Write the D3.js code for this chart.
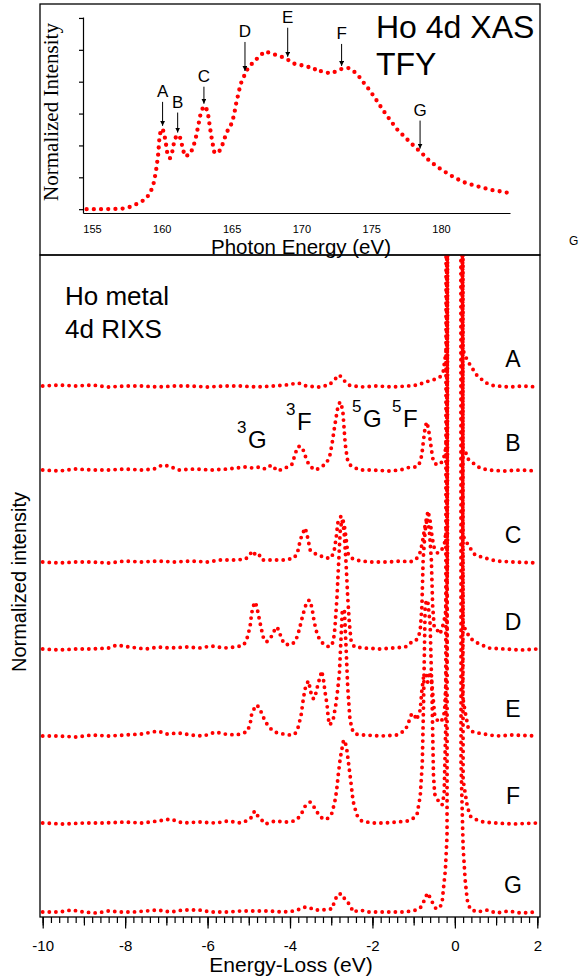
<!DOCTYPE html>
<html>
<head>
<meta charset="utf-8">
<title>Ho 4d XAS and RIXS</title>
<script src="https://cdn.jsdelivr.net/npm/d3@7"></script>
<style>
body { margin: 0; background: #fff; }
text { font-family: "Liberation Sans", Arial, sans-serif; fill: #000; }
.dots { fill: none; stroke: #ff0000; stroke-linecap: round; }
.frame { fill: none; stroke: #000; stroke-width: 1.3; }
.axis line, .axis path { stroke: #000; stroke-width: 1.2; }
</style>
</head>
<body>
<script>
// ---- Ho 4d XAS, total fluorescence yield ----
var xasEnergy = [154.62,155.33,156.05,156.77,157.24,157.72,158.20,158.80,159.15,159.39,159.51,159.63,
  159.75,159.82,159.92,160.06,160.18,160.30,160.42,160.59,160.78,160.90,161.07,161.26,161.38,161.50,
  161.66,162.02,162.26,162.45,162.62,162.78,162.98,163.17,163.33,163.45,163.60,163.76,164.05,164.29,
  164.53,164.77,165.00,165.17,165.32,165.48,165.65,165.84,166.03,166.32,166.68,167.03,167.39,167.75,
  168.23,168.71,169.06,169.42,169.90,170.38,170.90,171.09,171.33,171.69,172.17,172.53,172.88,173.36,
  173.72,174.08,174.44,174.91,175.39,175.87,176.35,176.82,177.30,177.78,178.26,178.62,179.09,179.69,
  180.29,180.88,181.60,182.32,183.03,183.75,184.23,184.82];
var xasIntensity = [0.00,0.00,0.00,0.01,0.02,0.07,0.16,0.30,0.49,0.75,1.01,1.32,
  1.74,2.16,2.47,2.52,2.36,2.05,1.69,1.60,1.84,2.16,2.31,2.31,2.16,1.90,
  1.66,1.72,1.95,2.26,2.63,2.99,3.22,3.20,2.94,2.57,2.16,1.79,1.76,1.95,
  2.26,2.52,2.68,2.94,3.30,3.61,3.93,4.11,4.32,4.50,4.66,4.81,4.95,4.90,
  4.83,4.76,4.68,4.57,4.53,4.47,4.43,4.32,4.34,4.29,4.26,4.34,4.40,4.43,
  4.34,4.19,3.98,3.72,3.41,3.09,2.80,2.52,2.31,2.10,1.90,1.76,1.55,1.34,
  1.17,1.01,0.85,0.75,0.67,0.59,0.56,0.51];
var xasTicks = [155, 160, 165, 170, 175, 180];
var xasYTicks = [0, 1, 2, 3, 4, 5, 6];
var xasPeaks = ["A", "B", "C", "D", "E", "F", "G"];
var xasPeakEnergy = [160.06, 161.14, 163.02, 165.96, 169.02, 172.88, 178.50];
var arrowLen = [24, 20, 17, 29, 29, 22, 28];

// ---- Ho metal 4d RIXS, [energy loss (eV), intensity] ----
var rixsNames = ["A", "B", "C", "D", "E", "F", "G"];
var rixsOffsets = [53.0, 44.6, 35.4, 26.7, 18.0, 9.3, 0.4];

var specA = [[-10,0.1],[-9.6,0.2],[-9.2,0.1],[-8.8,0.2],[-8.4,0.0],[-8,0.1],[-7.6,0.1],[-7.2,0.0],
  [-6.8,0.1],[-6.4,0.1],[-6,0.0],[-5.6,0.1],[-5.2,0.1],[-4.8,0.0],[-4.4,0.1],[-4.1,0.2],[-3.8,0.4],
  [-3.6,0.1],[-3.3,0.0],[-3.05,0.2],[-2.93,0.7],[-2.8,1.2],[-2.7,0.7],[-2.58,0.2],[-2.3,0.0],[-1.9,0.1],
  [-1.5,0.0],[-1.15,0.1],[-0.9,0.2],[-0.72,0.5],[-0.53,0.7],[-0.36,1.0],[-0.28,1.6],[-0.2,4.0],
  [-0.12,300],[0.13,300],[0.19,3.8],[0.25,3.1],[0.37,2.2],[0.53,1.2],[0.735,0.45],[0.93,0.15],
  [1.3,0.0],[1.65,0.1],[2,0.0]];
var specB = [[-10,0.1],[-9.6,0.0],[-9.2,0.2],[-8.8,0.1],[-8.4,0.1],[-8,0.2],[-7.6,0.1],[-7.3,0.2],
  [-7.1,0.6],[-6.95,0.5],[-6.7,0.1],[-6.3,0.2],[-5.9,0.1],[-5.5,0.2],[-5.1,0.4],[-4.9,0.3],[-4.72,0.4],
  [-4.6,0.2],[-4.45,0.6],[-4.3,0.0],[-4.12,0.3],[-3.96,0.6],[-3.88,1.6],[-3.82,2.4],[-3.75,2.5],
  [-3.68,2.1],[-3.63,1.5],[-3.55,0.7],[-3.44,0.2],[-3.37,0.1],[-3.25,0.4],[-3.13,0.7],[-3.04,1.4],
  [-2.98,2.7],[-2.93,4.1],[-2.88,5.4],[-2.83,6.6],[-2.78,6.9],[-2.72,6.1],[-2.69,4.4],[-2.66,2.7],
  [-2.61,1.2],[-2.54,0.6],[-2.47,0.4],[-2.3,0.1],[-2.0,0.1],[-1.6,0.0],[-1.33,0.1],[-1.08,0.4],
  [-0.92,0.4],[-0.84,0.9],[-0.8,1.7],[-0.76,3.1],[-0.72,4.4],[-0.68,4.9],[-0.64,4.2],[-0.6,3.1],
  [-0.56,1.9],[-0.52,0.9],[-0.43,0.6],[-0.31,0.9],[-0.24,1.7],[-0.19,3.7],[-0.15,300],[0.11,300],
  [0.19,2.4],[0.25,2.0],[0.32,1.2],[0.44,0.8],[0.61,0.3],[0.8,0.1],[1.2,0.0],[1.6,0.1],[2,0.0]];
var specC = [[-10,0.1],[-9.6,0.0],[-9.2,0.1],[-8.8,0.1],[-8.4,0.0],[-8,0.2],[-7.6,0.1],[-7.2,0.2],
  [-6.8,0.1],[-6.4,0.2],[-6,0.1],[-5.7,0.3],[-5.3,0.3],[-5.08,0.4],[-4.97,0.8],[-4.93,1.2],[-4.85,0.9],
  [-4.77,1.0],[-4.68,0.3],[-4.4,0.3],[-4.1,0.3],[-3.9,0.5],[-3.82,1.0],[-3.75,2.3],[-3.69,3.0],
  [-3.63,3.5],[-3.58,2.7],[-3.51,1.3],[-3.44,1.0],[-3.3,0.8],[-3.15,0.5],[-3.0,0.5],[-2.93,1.2],
  [-2.88,2.5],[-2.84,4.0],[-2.76,4.7],[-2.69,4.0],[-2.64,2.5],[-2.6,1.0],[-2.52,0.5],[-2.3,0.2],
  [-2.0,0.1],[-1.6,0.1],[-1.3,0.2],[-1.08,0.1],[-0.94,0.4],[-0.86,0.8],[-0.79,2.0],[-0.72,3.8],
  [-0.65,5.2],[-0.6,4.2],[-0.55,2.5],[-0.5,1.5],[-0.42,1.0],[-0.33,1.2],[-0.25,2.0],[-0.19,4.0],
  [-0.13,300],[0.15,300],[0.19,2.8],[0.25,2.3],[0.37,1.5],[0.49,0.8],[0.73,0.5],[1.0,0.2],[1.4,0.1],[2,0.0]];
var specD = [[-10,0.1],[-9.6,0.0],[-9.2,0.1],[-8.8,0.1],[-8.4,0.2],[-8.2,0.5],[-7.9,0.3],[-7.5,0.1],
  [-7.2,0.3],[-6.9,0.2],[-6.5,0.3],[-6.2,0.2],[-5.9,0.4],[-5.6,0.2],[-5.3,0.3],[-5.12,0.5],[-5.04,1.2],
  [-4.97,2.3],[-4.93,3.7],[-4.88,4.5],[-4.84,4.8],[-4.8,4.2],[-4.75,3.2],[-4.7,2.2],[-4.65,1.3],
  [-4.57,0.8],[-4.47,1.2],[-4.4,1.8],[-4.33,2.3],[-4.27,2.0],[-4.22,1.3],[-4.14,0.6],[-4.0,0.5],
  [-3.88,0.8],[-3.81,1.5],[-3.76,2.3],[-3.7,3.3],[-3.64,4.2],[-3.59,4.8],[-3.53,5.0],[-3.47,4.3],
  [-3.42,3.0],[-3.37,2.0],[-3.28,1.0],[-3.16,0.5],[-3.04,0.3],[-2.95,0.8],[-2.91,2.2],[-2.86,5.3],
  [-2.82,8.7],[-2.78,12],[-2.74,13],[-2.69,12],[-2.64,8.7],[-2.6,5.3],[-2.56,2.7],[-2.52,1.0],
  [-2.44,0.3],[-2.2,0.2],[-1.8,0.1],[-1.5,0.2],[-1.2,0.3],[-1.1,0.7],[-0.99,0.8],[-0.89,1.2],
  [-0.84,2.0],[-0.8,4.3],[-0.77,9],[-0.72,12],[-0.67,13.2],[-0.62,12],[-0.57,9],[-0.54,4.5],
  [-0.5,2.2],[-0.43,2.0],[-0.36,1.6],[-0.3,2.3],[-0.23,3.5],[-0.18,8],[-0.16,300],[0.12,300],
  [0.2,2.5],[0.3,1.7],[0.37,1.2],[0.49,0.8],[0.66,0.5],[0.8,0.2],[1.2,0.1],[1.6,0.0],[2,0.1]];
var specE = [[-10,0.1],[-9.6,0.1],[-9.2,0.0],[-8.8,0.2],[-8.4,0.1],[-8,0.2],[-7.6,0.3],[-7.2,0.6],
  [-7.0,0.3],[-6.7,0.4],[-6.4,0.2],[-6.1,0.1],[-5.8,0.5],[-5.6,0.3],[-5.3,0.2],[-5.05,0.5],[-4.97,1.2],
  [-4.93,2.3],[-4.85,3.0],[-4.8,3.2],[-4.73,2.8],[-4.65,2.0],[-4.56,1.3],[-4.44,0.7],[-4.31,0.4],
  [-4.0,0.2],[-3.88,0.3],[-3.8,1.0],[-3.73,2.2],[-3.68,3.7],[-3.64,4.7],[-3.6,5.3],[-3.55,5.6],
  [-3.49,4.4],[-3.43,3.8],[-3.37,4.4],[-3.32,5.3],[-3.27,6.0],[-3.23,6.6],[-3.19,5.8],[-3.15,4.5],
  [-3.1,3.2],[-3.07,1.8],[-3.03,1.2],[-2.95,1.8],[-2.89,3.2],[-2.84,4.8],[-2.8,6.5],[-2.77,9.2],
  [-2.73,12.7],[-2.68,12.7],[-2.64,9],[-2.6,5],[-2.55,2],[-2.5,0.8],[-2.42,0.3],[-2.2,0.2],[-1.8,0.1],
  [-1.4,0.2],[-1.2,0.7],[-1.12,1.5],[-1.05,2.3],[-0.99,2.3],[-0.93,1.7],[-0.84,2.7],[-0.8,4.7],
  [-0.76,6.0],[-0.7,6.3],[-0.66,5.5],[-0.62,6.5],[-0.57,6.0],[-0.53,4.0],[-0.49,2.2],[-0.43,1.7],
  [-0.33,1.5],[-0.25,2.5],[-0.19,8],[-0.14,300],[0.16,300],[0.19,4.0],[0.25,2.5],[0.32,1.0],
  [0.44,0.5],[0.7,0.3],[1.0,0.1],[1.4,0.2],[2,0.1]];
var specF = [[-10,0.1],[-9.5,0.0],[-9,0.1],[-8.5,0.1],[-8,0.2],[-7.6,0.1],[-7.2,0.3],[-6.9,0.5],
  [-6.6,0.1],[-6.2,0.2],[-5.8,0.1],[-5.5,0.3],[-5.2,0.1],[-5.0,0.4],[-4.93,0.7],[-4.86,1.3],[-4.8,0.9],
  [-4.73,0.6],[-4.6,0.0],[-4.36,0.3],[-4.1,0.2],[-3.9,0.3],[-3.8,0.6],[-3.7,1.2],[-3.63,1.8],
  [-3.51,2.2],[-3.4,1.6],[-3.3,0.9],[-3.2,0.5],[-3.1,0.5],[-2.98,1.1],[-2.91,2.3],[-2.87,3.3],
  [-2.83,4.9],[-2.78,6.6],[-2.74,7.5],[-2.7,8.4],[-2.66,8.2],[-2.62,7.4],[-2.58,6.1],[-2.52,4.1],
  [-2.47,2.3],[-2.38,0.9],[-2.26,0.3],[-2.0,0.1],[-1.7,0.1],[-1.4,0.2],[-1.15,0.3],[-1.0,0.6],
  [-0.92,0.9],[-0.84,2.8],[-0.79,6.1],[-0.76,12],[-0.72,22],[-0.66,22.4],[-0.6,20],[-0.55,12],
  [-0.52,5],[-0.49,3.0],[-0.4,2.3],[-0.31,1.9],[-0.26,3.0],[-0.22,10],[-0.18,300],[0.11,300],
  [0.2,4.4],[0.3,1.8],[0.37,0.8],[0.44,0.6],[0.54,0.4],[0.7,0.2],[1.0,0.1],[1.4,0.0],[2,0.1]];
var specG = [[-10,0.1],[-9.6,0.1],[-9.3,0.3],[-9,0.1],[-8.7,0.0],[-8.4,0.2],[-8.1,0.1],[-7.8,0.1],
  [-7.5,0.2],[-7.2,0.3],[-6.9,0.1],[-6.6,0.3],[-6.2,0.3],[-5.9,0.1],[-5.5,0.1],[-5.2,0.2],[-4.9,0.2],
  [-4.5,0.2],[-4.2,0.1],[-3.9,0.2],[-3.75,0.4],[-3.63,0.6],[-3.51,0.5],[-3.4,0.3],[-3.3,0.3],
  [-3.2,0.3],[-3.08,0.4],[-2.98,0.4],[-2.91,1.3],[-2.83,1.9],[-2.74,1.9],[-2.66,1.3],[-2.54,0.8],
  [-2.47,0.1],[-2.3,0.3],[-2.1,0.1],[-1.6,0.1],[-1.2,0.1],[-0.94,0.3],[-0.84,0.5],[-0.77,1.0],
  [-0.7,1.7],[-0.65,2.0],[-0.6,1.5],[-0.55,1.1],[-0.47,0.5],[-0.44,0.4],[-0.36,0.6],[-0.31,1.0],
  [-0.28,2.3],[-0.23,4.3],[-0.19,7.7],[-0.15,300],[0.13,300],[0.15,15],[0.2,6.6],[0.25,3.3],
  [0.3,1.3],[0.37,0.4],[0.53,0.1],[0.8,0.3],[1.0,0.0],[1.3,0.2],[1.6,0.0],[2,0.1]];
var rixsSpectra = [specA, specB, specC, specD, specE, specF, specG];
var rixsMajorTicks = [-10, -8, -6, -4, -2, 0, 2];

// term labels: digit, letter, letter x, letter baseline
var terms = [["3", "G", 248, 448], ["3", "F", 297, 430], ["5", "G", 363, 427], ["5", "F", 403, 427]];

var svg = d3.select("body").append("svg")
  .attr("width", 581)
  .attr("height", 978);

// ================= inset: XAS =================
var xx = d3.scaleLinear().domain([154.36, 184.94]).range([83, 510]);
var yx = d3.scaleLinear().domain([-0.12, 6.03]).range([213, 17]);

svg.append("rect").attr("class", "frame")
  .attr("x", 40).attr("y", 4).attr("width", 500).attr("height", 251);

svg.append("g").attr("class", "axis")
  .attr("transform", "translate(0,213)")
  .call(d3.axisBottom(xx).tickValues(xasTicks).tickSize(0).tickSizeOuter(0)
    .tickPadding(12).tickFormat(function(d) { return String(d); }))
  .attr("font-size", 11)
  .attr("font-family", null);

svg.append("g").attr("class", "axis")
  .attr("transform", "translate(83,0)")
  .call(d3.axisLeft(yx).tickValues(xasYTicks).tickSize(4).tickSizeOuter(0).tickFormat(""));

var xasLine = d3.line()
  .x(function(d, i) { return xx(xasEnergy[i]); })
  .y(function(d) { return yx(d); });

svg.append("path").attr("class", "dots")
  .attr("d", xasLine(xasIntensity))
  .attr("stroke-width", 4.3)
  .attr("stroke-dasharray", "0 7.2");

function xasAt(e) {
  var i = d3.bisectLeft(xasEnergy, e);
  var e0 = xasEnergy[i - 1], e1 = xasEnergy[i];
  var t = (e - e0) / (e1 - e0);
  return xasIntensity[i - 1] + t * (xasIntensity[i] - xasIntensity[i - 1]);
}

var defs = svg.append("defs");
defs.append("marker").attr("id", "head")
  .attr("viewBox", "0 0 10 10").attr("refX", 10).attr("refY", 5)
  .attr("markerWidth", 5).attr("markerHeight", 5)
  .attr("markerUnits", "userSpaceOnUse")
  .attr("orient", "auto")
  .append("path").attr("d", "M0,0L10,5L0,10z").attr("fill", "#000");

xasPeaks.forEach(function(p, i) {
  var px = xx(xasPeakEnergy[i]);
  var tip = yx(xasAt(xasPeakEnergy[i])) - 3;
  var tail = tip - arrowLen[i];
  svg.append("line")
    .attr("x1", px).attr("y1", tail).attr("x2", px).attr("y2", tip)
    .attr("stroke", "#000").attr("stroke-width", 1)
    .attr("marker-end", "url(#head)");
  svg.append("text")
    .attr("x", px).attr("y", tail - 5)
    .attr("text-anchor", "middle")
    .attr("font-size", 17)
    .text(p);
});

svg.append("text")
  .attr("transform", "translate(58,112) rotate(-90)")
  .attr("text-anchor", "middle")
  .attr("font-size", 21)
  .style("font-family", "'Liberation Serif', 'Times New Roman', serif")
  .text("Normalized Intensity");

svg.append("text")
  .attr("x", 301).attr("y", 254)
  .attr("text-anchor", "middle")
  .attr("font-size", 20.5)
  .text("Photon Energy (eV)");

svg.append("text").attr("x", 376).attr("y", 38).attr("font-size", 32).text("Ho 4d XAS");
svg.append("text").attr("x", 376).attr("y", 75).attr("font-size", 32).text("TFY");

svg.append("text").attr("x", 569).attr("y", 245).attr("font-size", 12).text("G");

// ================= main: RIXS =================
var x = d3.scaleLinear().domain([-10, 2]).range([42.7, 537.3]);
var y = d3.scaleLinear().domain([0, 66.2]).range([917, 255]);

defs.append("clipPath").attr("id", "plot")
  .append("rect").attr("x", 40).attr("y", 255).attr("width", 500).attr("height", 662);

var plot = svg.append("g").attr("clip-path", "url(#plot)");

rixsSpectra.forEach(function(s, k) {
  var off = rixsOffsets[k];
  var line = d3.line()
    .x(function(d) { return x(d[0]); })
    .y(function(d) { return y(off + d[1]); });
  plot.append("path").attr("class", "dots")
    .attr("d", line(s))
    .attr("stroke-width", 3.9)
    .attr("stroke-dasharray", "0 6.6");
});

svg.append("rect").attr("class", "frame")
  .attr("x", 40).attr("y", 255).attr("width", 500).attr("height", 662);

// ticks: minor 0.2, medium 1, major 2
var minor = d3.range(0, 61).map(function(i) { return -10 + i * 0.2; });
var medium = d3.range(-10, 3, 1);
[[minor, 6, false], [medium, 8.5, false], [rixsMajorTicks, 11.5, true]].forEach(function(t) {
  var ax = d3.axisBottom(x).tickValues(t[0]).tickSize(t[1]).tickSizeOuter(0)
    .tickPadding(12)
    .tickFormat(t[2] ? function(d) { return String(d); } : "");
  svg.append("g").attr("class", "axis")
    .attr("transform", "translate(0,917)")
    .call(ax)
    .attr("font-size", 15)
    .attr("font-family", null)
    .call(function(g) { g.select(".domain").remove(); });
});

svg.append("text")
  .attr("x", 291).attr("y", 972)
  .attr("text-anchor", "middle")
  .attr("font-size", 21)
  .text("Energy-Loss (eV)");

svg.append("text")
  .attr("transform", "translate(26,582) rotate(-90)")
  .attr("text-anchor", "middle")
  .attr("font-size", 20)
  .text("Normalized intensity");

svg.append("text").attr("x", 65).attr("y", 305).attr("font-size", 26).text("Ho metal");
svg.append("text").attr("x", 65).attr("y", 338).attr("font-size", 26).text("4d RIXS");

rixsNames.forEach(function(n, k) {
  svg.append("text")
    .attr("x", 513).attr("y", y(rixsOffsets[k]) - 20)
    .attr("text-anchor", "middle")
    .attr("font-size", 23)
    .text(n);
});

terms.forEach(function(t) {
  svg.append("text").attr("x", t[2] - 11).attr("y", t[3] - 15).attr("font-size", 17).text(t[0]);
  svg.append("text").attr("x", t[2]).attr("y", t[3]).attr("font-size", 24).text(t[1]);
});
</script>
</body>
</html>
